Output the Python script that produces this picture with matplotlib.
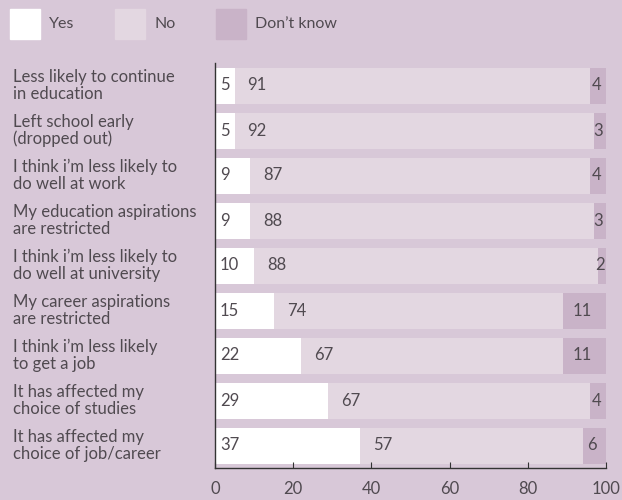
import matplotlib
matplotlib.use('Agg')
import matplotlib.pyplot as plt
import matplotlib.patches as mpatches

categories = ['Less likely to continue\nin education',
              'Left school early\n(dropped out)',
              'I think i\u2019m less likely to\ndo well at work',
              'My education aspirations\nare restricted',
              'I think i\u2019m less likely to\ndo well at university',
              'My career aspirations\nare restricted',
              'I think i\u2019m less likely\nto get a job',
              'It has affected my\nchoice of studies',
              'It has affected my\nchoice of job/career']
yes = [5, 5, 9, 9, 10, 15, 22, 29, 37]
no = [91, 92, 87, 88, 88, 74, 67, 67, 57]
dont_know = [4, 3, 4, 3, 2, 11, 11, 4, 6]
series_names = ['Yes', 'No', 'Don\u2019t know']

bg = '#d8c8d8'
colors = ['#ffffff', '#e3d7e1', '#c9b3c8']
text_col = '#504a50'

plt.rcParams['font.family'] = ['Lato', 'DejaVu Sans']

fig = plt.figure(figsize=(6.22, 5), dpi=100, facecolor=bg)
ax = fig.add_axes([215/622, 1 - 468/500, (606 - 215)/622, (468 - 63)/500])
ax.set_facecolor(bg)

pos = list(range(len(categories)))
left_no = yes
left_dk = [a + b for a, b in zip(yes, no)]
ax.barh(pos, yes, height=0.8, color=colors[0])
ax.barh(pos, no, left=left_no, height=0.8, color=colors[1])
ax.barh(pos, dont_know, left=left_dk, height=0.8, color=colors[2])

# value labels
for i in pos:
    ax.annotate(str(yes[i]), (0, i), xytext=(5, 0), textcoords='offset pixels',
                ha='left', va='center', fontsize=12, color=text_col)
    ax.annotate(str(no[i]), (left_no[i], i), xytext=(13, 0), textcoords='offset pixels',
                ha='left', va='center', fontsize=12, color=text_col)
    ax.annotate(str(dont_know[i]), (left_dk[i] + dont_know[i] / 2, i), xytext=(-2, 0),
                textcoords='offset pixels', ha='center', va='center', fontsize=12, color=text_col)

ax.set_xlim(0, 100)
ax.set_ylim(len(categories) - 0.5, -0.5)
ax.set_xticks([0, 20, 40, 60, 80, 100])
ax.set_yticks(pos)
ax.set_yticklabels([])
ax.tick_params(axis='y', length=0)
ax.tick_params(axis='x', length=4, direction='in', colors='#333333', labelcolor=text_col,
               labelsize=12, pad=9)
for s in ['top', 'right']:
    ax.spines[s].set_visible(False)
for s in ['left', 'bottom']:
    ax.spines[s].set_color('#333333')
    ax.spines[s].set_linewidth(1)

# category labels, left aligned at figure edge
for i, c in zip(pos, categories):
    ax.annotate(c, (0, i), xycoords=('figure pixels', 'data'), xytext=(13, 0),
                textcoords='offset pixels', ha='left', va='center', fontsize=12,
                color=text_col, linespacing=1.1)

# legend across the top
leg_x = [10, 115, 216]
for x, col, name in zip(leg_x, colors, series_names):
    fig.patches.append(mpatches.Rectangle((x/622, 1 - 39/500), 30/622, 30/500,
                                          transform=fig.transFigure, color=col))
    fig.text((x + 39)/622, 1 - 24/500, name, ha='left', va='center',
             fontsize=11.5, color=text_col)

fig.savefig('out.png', dpi=100, facecolor=bg)
